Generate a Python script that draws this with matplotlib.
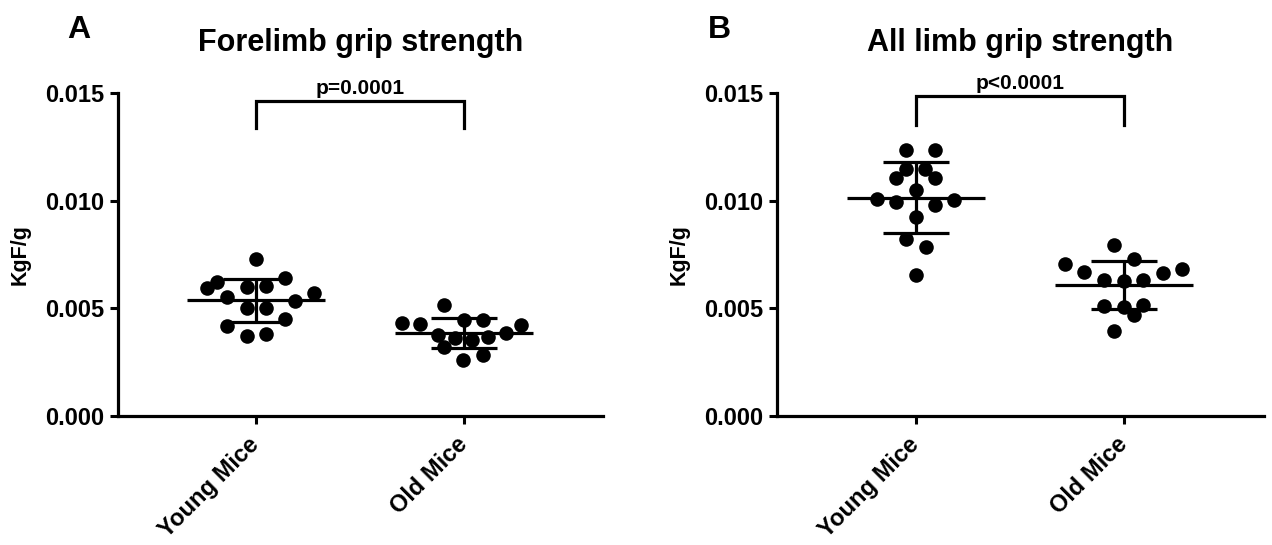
import numpy as np
import matplotlib
matplotlib.use("Agg")
import matplotlib.pyplot as plt

plt.rcParams['font.family'] = ['Liberation Sans', 'DejaVu Sans']

groups = ["Young Mice", "Old Mice"]
titles = ["Forelimb grip strength", "All limb grip strength"]
panel_letters = ["A", "B"]
p_labels = ["p=0.0001", "p<0.0001"]
y_label = "KgF/g"
y_ticks = [0.000, 0.005, 0.010, 0.015]

# Panel A values (KgF/g)
fore_young = [0.00731, 0.00639, 0.00620, 0.00593, 0.00597, 0.00602, 0.00551, 0.00569,
              0.00532, 0.00500, 0.00500, 0.00449, 0.00417, 0.00370, 0.00380]
fore_old = [0.00514, 0.00431, 0.00426, 0.00444, 0.00444, 0.00375, 0.00361, 0.00352,
            0.00366, 0.00384, 0.00421, 0.00320, 0.00259, 0.00282]
# Panel B values (KgF/g)
all_young = [0.01236, 0.01236, 0.01148, 0.01106, 0.01148, 0.01106, 0.01051, 0.01009,
             0.00995, 0.00981, 0.01005, 0.00926, 0.00824, 0.00787, 0.00657]
all_old = [0.00792, 0.00708, 0.00727, 0.00671, 0.00662, 0.00681, 0.00630, 0.00625,
           0.00630, 0.00509, 0.00505, 0.00514, 0.00468, 0.00394]

# horizontal scatter offsets of the dots (category units)
fore_young_dx = [0, 29, -39, -49, -9, 10, -29, 58, 39, -9, 10, 29, -29, -9, 10]
fore_old_dx = [-20, -62, -44, 0, 19, -26, -9, 8, 24, 42, 57, -20, -1, 19]
all_young_dx = [-10, 19, -10, -20, 9, 19, 0, -39, -20, 19, 38, 0, -10, 10, 0]
all_old_dx = [-10, -59, 10, -40, 39, 58, -20, 0, 19, -20, 0, 19, 10, -10]

panels = [
    (fore_young, fore_old, fore_young_dx, fore_old_dx, 0.01463, 0.01338),
    (all_young, all_old, all_young_dx, all_old_dx, 0.01486, 0.01352),
]

fig = plt.figure(figsize=(12.72, 5.45), dpi=100)
ax_rects = [[118/1272, 1-416/545, 485/1272, 323/545],
            [777/1272, 1-416/545, 487/1272, 323/545]]
xlims = [(-0.663, 1.668), (-0.668, 1.673)]
letter_pos = [(67/1272, 1-38/545), (708/1272, 1-38/545)]
px_per_unit = 208.0

for i, (ya, yb, dxa, dxb, brk_top, brk_bot) in enumerate(panels):
    ax = fig.add_axes(ax_rects[i])
    for j, (vals, dx) in enumerate([(ya, dxa), (yb, dxb)]):
        v = np.array(vals)
        x = j + np.array(dx) / px_per_unit
        ax.scatter(x, v, s=110, color='black', zorder=3, linewidths=0)
        m = v.mean()
        sd = v.std(ddof=1)
        ax.hlines(m, j - 0.33, j + 0.33, color='black', lw=2.3, zorder=4)
        ax.hlines([m - sd, m + sd], j - 0.16, j + 0.16, color='black', lw=2.3, zorder=4)
        ax.vlines(j, m - sd, m + sd, color='black', lw=2.3, zorder=4)
    # significance bracket
    ax.plot([0, 0, 1, 1], [brk_bot, brk_top, brk_top, brk_bot], color='black',
            lw=2.3, clip_on=False, solid_joinstyle='miter')
    ax.text(0.5, brk_top + 0.00013, p_labels[i], ha='center', va='bottom',
            fontsize=15, fontweight='bold')
    ax.set_xlim(*xlims[i])
    ax.set_ylim(0, 0.015)
    ax.set_yticks(y_ticks)
    ax.set_yticklabels([f"{t:.3f}" for t in y_ticks], fontsize=17, fontweight='bold')
    ax.set_xticks([0, 1])
    ax.set_xticklabels(groups, rotation=45, ha='right', va='center',
                       rotation_mode='anchor', fontsize=17, fontweight='bold')
    ax.tick_params(axis='both', width=2.2, length=6, direction='out', pad=4)
    ax.tick_params(axis='x', pad=12)
    for s in ['top', 'right']:
        ax.spines[s].set_visible(False)
    for s in ['left', 'bottom']:
        ax.spines[s].set_linewidth(2.3)
    ax.set_ylabel(y_label, fontsize=15.5, fontweight='bold')
    ax.yaxis.set_label_coords(-0.18, 0.5)
    ax.set_title(titles[i], fontsize=22, fontweight='bold', pad=30)
    fig.text(letter_pos[i][0], letter_pos[i][1], panel_letters[i], fontsize=23,
             fontweight='bold', ha='left', va='baseline')

fig.savefig("out.png", dpi=100, facecolor='white')
